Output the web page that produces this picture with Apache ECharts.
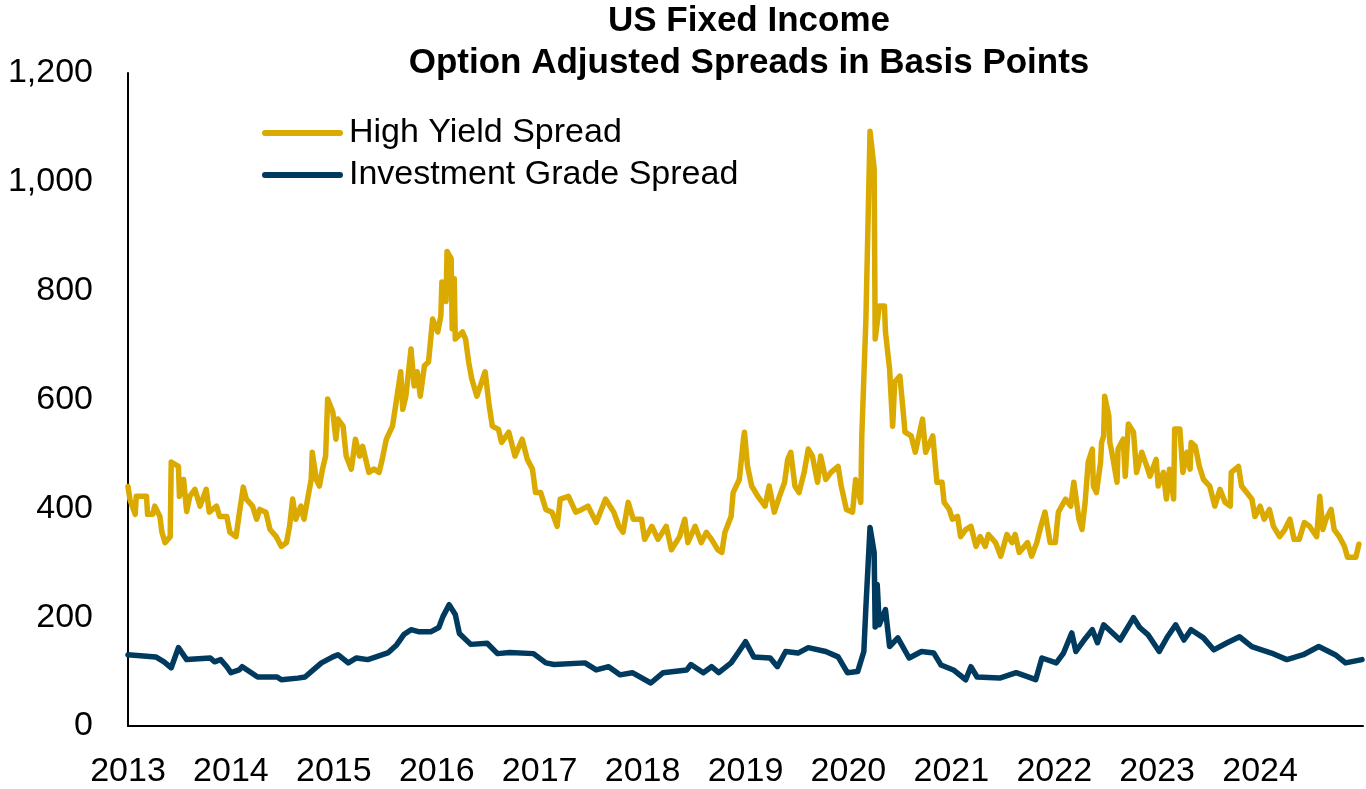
<!DOCTYPE html>
<html>
<head>
<meta charset="utf-8">
<title>US Fixed Income - Option Adjusted Spreads</title>
<script src="https://cdn.jsdelivr.net/npm/echarts@6/dist/echarts.min.js"></script>
<style>
  html, body { margin: 0; padding: 0; background: #fff; }
  #ch-main { width: 1366px; height: 789px; }
</style>
</head>
<body>
<div id="ch-main"></div>
<script>
// values, dates in decimal years
var hyDates = [
  2013.00, 2013.02, 2013.07, 2013.08, 2013.18, 2013.19, 2013.24, 2013.26, 2013.31, 2013.33,
  2013.36, 2013.41, 2013.42, 2013.49, 2013.50, 2013.54, 2013.57, 2013.60, 2013.65, 2013.70,
  2013.76, 2013.79, 2013.86, 2013.89, 2013.96, 2013.99, 2014.05, 2014.08, 2014.12, 2014.15,
  2014.21, 2014.25, 2014.28, 2014.34, 2014.38, 2014.44, 2014.49, 2014.54, 2014.57, 2014.60,
  2014.63, 2014.68, 2014.71, 2014.75, 2014.78, 2014.79, 2014.83, 2014.86, 2014.89, 2014.92,
  2014.94, 2014.99, 2015.02, 2015.04, 2015.09, 2015.12, 2015.17, 2015.21, 2015.25, 2015.28,
  2015.31, 2015.34, 2015.39, 2015.44, 2015.47, 2015.51, 2015.57, 2015.60, 2015.65, 2015.67,
  2015.70, 2015.75, 2015.78, 2015.81, 2015.84, 2015.88, 2015.92, 2015.96, 2016.01, 2016.04,
  2016.05, 2016.09, 2016.10, 2016.14, 2016.15, 2016.17, 2016.18, 2016.25, 2016.28, 2016.31,
  2016.34, 2016.39, 2016.47, 2016.51, 2016.54, 2016.60, 2016.63, 2016.70, 2016.76, 2016.83,
  2016.88, 2016.93, 2016.96, 2017.01, 2017.06, 2017.12, 2017.17, 2017.20, 2017.28, 2017.35,
  2017.41, 2017.47, 2017.55, 2017.64, 2017.72, 2017.77, 2017.81, 2017.86, 2017.91, 2017.99,
  2018.02, 2018.09, 2018.15, 2018.23, 2018.28, 2018.36, 2018.41, 2018.44, 2018.51, 2018.57,
  2018.62, 2018.67, 2018.73, 2018.77, 2018.80, 2018.86, 2018.88, 2018.94, 2018.98, 2018.99,
  2019.02, 2019.06, 2019.12, 2019.19, 2019.23, 2019.28, 2019.33, 2019.38, 2019.41, 2019.44,
  2019.48, 2019.52, 2019.57, 2019.61, 2019.65, 2019.70, 2019.73, 2019.78, 2019.83, 2019.90,
  2019.93, 2019.98, 2020.04, 2020.07, 2020.12, 2020.13, 2020.17, 2020.21, 2020.25, 2020.26,
  2020.30, 2020.35, 2020.36, 2020.40, 2020.43, 2020.45, 2020.50, 2020.53, 2020.55, 2020.61,
  2020.65, 2020.72, 2020.75, 2020.82, 2020.86, 2020.91, 2020.93, 2020.98, 2021.01, 2021.06,
  2021.09, 2021.14, 2021.19, 2021.24, 2021.28, 2021.33, 2021.36, 2021.43, 2021.48, 2021.54,
  2021.59, 2021.62, 2021.66, 2021.74, 2021.78, 2021.83, 2021.87, 2021.91, 2021.96, 2022.01,
  2022.04, 2022.11, 2022.16, 2022.19, 2022.24, 2022.27, 2022.30, 2022.33, 2022.37, 2022.38,
  2022.41, 2022.45, 2022.46, 2022.48, 2022.49, 2022.53, 2022.54, 2022.56, 2022.61, 2022.62,
  2022.67, 2022.69, 2022.72, 2022.77, 2022.80, 2022.85, 2022.90, 2022.93, 2022.99, 2023.01,
  2023.06, 2023.09, 2023.12, 2023.16, 2023.17, 2023.22, 2023.25, 2023.29, 2023.32, 2023.33,
  2023.37, 2023.41, 2023.45, 2023.51, 2023.56, 2023.61, 2023.66, 2023.71, 2023.72, 2023.79,
  2023.82, 2023.87, 2023.92, 2023.95, 2024.00, 2024.04, 2024.09, 2024.13, 2024.19, 2024.24,
  2024.29, 2024.33, 2024.38, 2024.43, 2024.48, 2024.55, 2024.58, 2024.61, 2024.64, 2024.69,
  2024.72, 2024.77, 2024.82, 2024.85, 2024.93, 2024.96
];
var hyValues = [
  440, 415, 389, 422, 422, 389, 389, 404, 385, 356,
  337, 348, 485, 477, 422, 453, 394, 422, 435, 404,
  435, 393, 404, 385, 385, 356, 348, 389, 439, 417,
  404, 380, 398, 393, 361, 348, 330, 337, 367, 417,
  380, 404, 380, 422, 453, 503, 453, 441, 472, 496,
  601, 577, 527, 564, 551, 496, 472, 527, 496, 514,
  490, 466, 472, 466, 490, 527, 551, 588, 651, 582,
  606, 693, 625, 651, 606, 662, 669, 748, 724, 754,
  816, 780, 872, 859, 730, 822, 711, 724, 711, 669,
  638, 606, 651, 588, 551, 545, 521, 540, 496, 527,
  490, 472, 429, 429, 398, 393, 367, 417, 422, 393,
  398, 404, 374, 417, 393, 367, 356, 411, 380, 380,
  343, 367, 343, 367, 324, 348, 380, 337, 367, 337,
  356, 343, 324, 319, 356, 385, 429, 453, 527, 540,
  477, 441, 422, 404, 441, 393, 422, 448, 490, 503,
  441, 429, 466, 509, 496, 448, 496, 453, 466, 477,
  441, 398, 393, 453, 411, 533, 748, 1093, 1025, 711,
  772, 772, 724, 656, 551, 632, 643, 582, 540, 533,
  503, 564, 503, 533, 448, 448, 411, 398, 380, 385,
  348, 361, 367, 330, 348, 330, 352, 337, 312, 352,
  337, 352, 319, 337, 312, 337, 367, 393, 337, 337,
  393, 417, 404, 448, 380, 361, 411, 485, 509, 441,
  429, 485, 521, 533, 606, 570, 521, 503, 448, 509,
  527, 459, 555, 540, 466, 503, 477, 459, 490, 441,
  466, 417, 472, 417, 546, 546, 466, 503, 472, 521,
  514, 477, 453, 441, 404, 435, 411, 404, 466, 477,
  441, 429, 417, 385, 404, 380, 398, 367, 348, 361,
  380, 343, 343, 374, 367, 348, 422, 361, 380, 398,
  361, 348, 330, 310, 310, 334
];

var igDates = [
  2013.00, 2013.27, 2013.35, 2013.42, 2013.49, 2013.57, 2013.80, 2013.84, 2013.90, 2013.96,
  2014.00, 2014.08, 2014.11, 2014.18, 2014.26, 2014.45, 2014.49, 2014.65, 2014.72, 2014.80,
  2014.88, 2014.99, 2015.04, 2015.14, 2015.22, 2015.33, 2015.41, 2015.53, 2015.61, 2015.68,
  2015.75, 2015.83, 2015.94, 2016.02, 2016.06, 2016.12, 2016.18, 2016.22, 2016.33, 2016.49,
  2016.59, 2016.71, 2016.94, 2017.06, 2017.14, 2017.44, 2017.55, 2017.67, 2017.78, 2017.90,
  2018.08, 2018.20, 2018.43, 2018.47, 2018.59, 2018.67, 2018.74, 2018.86, 2018.93, 2019.00,
  2019.08, 2019.24, 2019.31, 2019.39, 2019.51, 2019.61, 2019.78, 2019.90, 2019.99, 2020.09,
  2020.15, 2020.17, 2020.21, 2020.25, 2020.26, 2020.28, 2020.30, 2020.36, 2020.40, 2020.48,
  2020.59, 2020.71, 2020.83, 2020.90, 2021.02, 2021.14, 2021.19, 2021.25, 2021.47, 2021.63,
  2021.78, 2021.82, 2021.88, 2022.02, 2022.09, 2022.17, 2022.21, 2022.29, 2022.37, 2022.42,
  2022.48, 2022.64, 2022.77, 2022.83, 2022.91, 2023.02, 2023.10, 2023.18, 2023.26, 2023.33,
  2023.45, 2023.55, 2023.68, 2023.80, 2023.92, 2024.11, 2024.26, 2024.42, 2024.57, 2024.73,
  2024.83, 2024.99
];
var igValues = [
  131, 127, 118, 107, 144, 122, 125, 118, 122, 109,
  98, 103, 109, 100, 90, 90, 85, 88, 90, 103,
  116, 127, 131, 116, 125, 122, 127, 135, 149, 168,
  177, 173, 173, 181, 201, 223, 205, 170, 150, 152,
  133, 135, 133, 116, 113, 116, 103, 109, 94, 98,
  79, 98, 103, 113, 98, 109, 98, 116, 135, 155,
  127, 125, 109, 137, 134, 144, 137, 127, 98, 100,
  137, 219, 365, 319, 182, 260, 186, 214, 146, 162,
  125, 137, 134, 112, 103, 85, 109, 90, 88, 98,
  88, 85, 125, 116, 134, 171, 137, 158, 177, 153,
  186, 158, 199, 181, 168, 137, 164, 186, 158, 177,
  162, 140, 153, 164, 146, 134, 122, 131, 146, 131,
  116, 122
];

var yearTicks = [2013, 2014, 2015, 2016, 2017, 2018, 2019, 2020, 2021, 2022, 2023, 2024];

function zip(xs, ys) {
    return xs.map(function (x, i) { return [x, ys[i]]; });
}

var font = 'Liberation Sans, Arial, sans-serif';
// rounded bar used as legend swatch
var legendBar = 'path://M3,0H78A3,3,0,0,1,78,6H3A3,3,0,0,1,3,0Z';
var myChart = echarts.init(document.getElementById('ch-main'));

var option = {
    animation: false,
    backgroundColor: '#fff',
    title: {
        text: 'US Fixed Income\nOption Adjusted Spreads in Basis Points',
        left: 749,
        top: 0,
        padding: 0,
        textAlign: 'center',
        textStyle: {
            fontFamily: font,
            fontSize: 35,
            fontWeight: 'bold',
            color: '#000',
            lineHeight: 42
        }
    },
    legend: {
        orient: 'vertical',
        left: 262,
        top: 116,
        padding: 0,
        itemGap: 8,
        itemWidth: 81,
        itemHeight: 6,
        icon: legendBar,
        textStyle: { fontFamily: font, fontSize: 34, color: '#000', padding: [0, 0, 0, 1] },
        data: ['High Yield Spread', 'Investment Grade Spread']
    },
    grid: { left: 128, right: 0, top: 73, bottom: 63 },
    xAxis: {
        type: 'value',
        min: 2013,
        max: 2025,
        interval: 1,
        splitLine: { show: false },
        axisTick: { show: false },
        axisLine: { lineStyle: { color: '#000', width: 2 } },
        axisLabel: {
            fontFamily: font,
            fontSize: 34,
            color: '#000',
            margin: 29,
            formatter: function (v) {
                return yearTicks.indexOf(v) >= 0 ? String(v) : '';
            }
        }
    },
    yAxis: {
        type: 'value',
        min: 0,
        max: 1200,
        interval: 200,
        splitLine: { show: false },
        axisTick: { show: false },
        axisLine: { show: true, lineStyle: { color: '#000', width: 2 } },
        axisLabel: {
            fontFamily: font,
            fontSize: 34,
            color: '#000',
            margin: 35,
            formatter: function (v) { return v.toLocaleString('en-US'); }
        }
    },
    series: [{
        name: 'High Yield Spread',
        type: 'line',
        symbol: 'none',
        color: '#DAAA00',
        lineStyle: { width: 5.5, cap: 'round', join: 'round' },
        data: zip(hyDates, hyValues)
    }, {
        name: 'Investment Grade Spread',
        type: 'line',
        symbol: 'none',
        color: '#003A5F',
        lineStyle: { width: 5.5, cap: 'round', join: 'round' },
        data: zip(igDates, igValues)
    }]
};

myChart.setOption(option);
</script>
</body>
</html>
